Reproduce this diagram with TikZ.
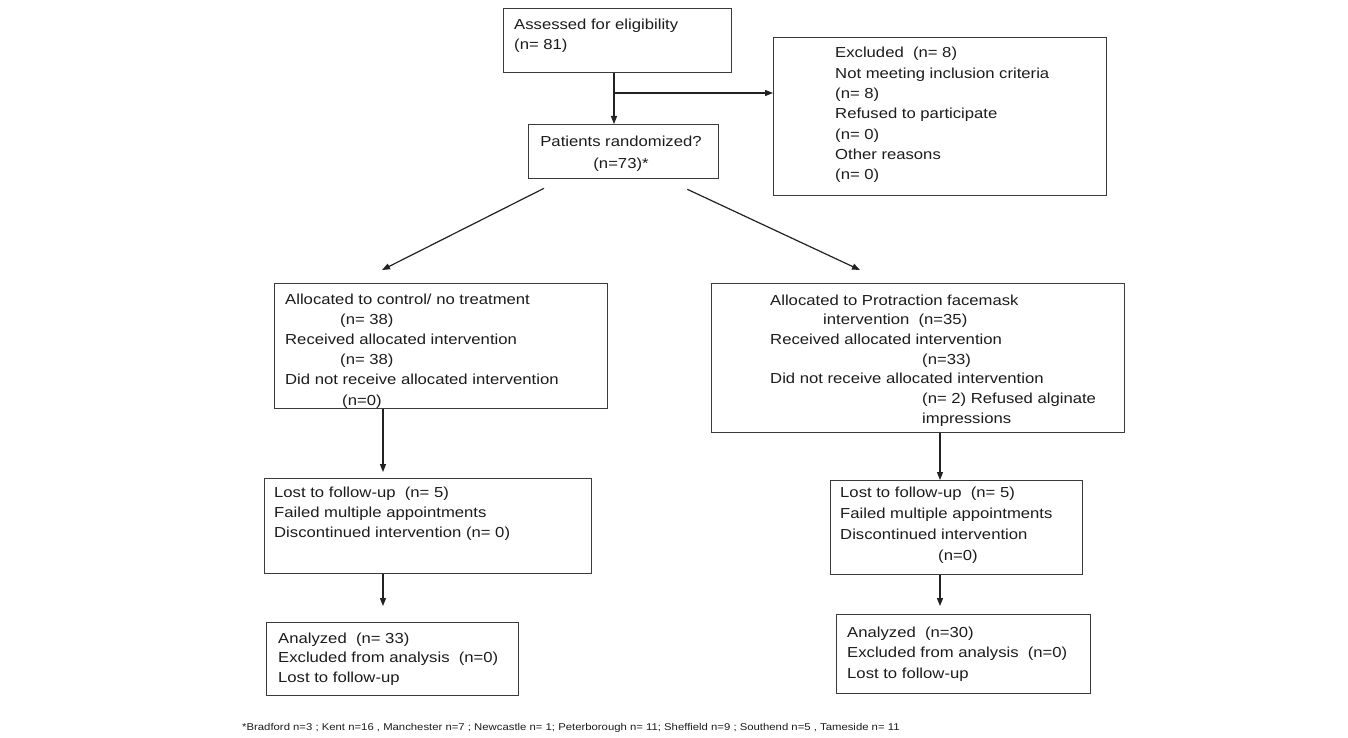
\documentclass[tikz,border=0pt]{standalone}
\usepackage{fontspec}
\setmainfont{Liberation Sans}[FakeStretch=1.15]
\usetikzlibrary{arrows.meta,calc}
\definecolor{boxc}{HTML}{3A3A3A}
\definecolor{txtc}{HTML}{1C1C1C}
\definecolor{linec}{HTML}{222222}
\newcommand\fsz[1]{\fontsize{14.5pt}{#1}\selectfont}
\begin{document}
\begin{tikzpicture}[x=1pt,y=-1pt,
  box/.style={draw=boxc, line width=1.3pt, inner sep=0pt, anchor=north west},
  txt/.style={anchor=base west, inner sep=0pt, text=txtc},
  arr/.style={draw=linec, line width=1.2pt, -{Triangle[length=8pt,width=6pt]}}]
\useasboundingbox[fill=white] (0,0) rectangle (1348,738);

% boxes
\node[box, minimum width=228pt, minimum height=64pt]  (B1) at (503,8) {};
\node[box, minimum width=190pt, minimum height=54pt]  (B2) at (528,124) {};
\node[box, minimum width=333pt, minimum height=158pt] (B3) at (773,37) {};
\node[box, minimum width=333pt, minimum height=125pt] (B4) at (274,283) {};
\node[box, minimum width=413pt, minimum height=149pt] (B5) at (711,283) {};
\node[box, minimum width=327pt, minimum height=95pt]  (B6) at (264,478) {};
\node[box, minimum width=252pt, minimum height=73pt]  (B7) at (266,622) {};
\node[box, minimum width=252pt, minimum height=94pt]  (B8) at (830,480) {};
\node[box, minimum width=254pt, minimum height=79pt]  (B9) at (836,614) {};

% texts
\node[txt] (T1) at (514,30) {\fsz{20pt}\begin{tabular}[t]{@{}l@{}}Assessed for eligibility\\(n= 81)\end{tabular}};
\node[txt, anchor=base] (T2) at (621,147) {\fsz{21pt}\begin{tabular}[t]{@{}c@{}}Patients randomized?\\(n=73)*\end{tabular}};
\node[txt] (T3) at (835,58) {\fsz{20.3pt}\begin{tabular}[t]{@{}l@{}}Excluded\ \ (n= 8)\\Not meeting inclusion criteria\\(n= 8)\\Refused to participate\\(n= 0)\\Other reasons\\(n= 0)\end{tabular}};
\node[txt] (T4) at (285,304) {\fsz{20.2pt}\begin{tabular}[t]{@{}l@{}}Allocated to control/ no treatment\\\hspace*{55pt}(n= 38)\\Received allocated intervention\\\hspace*{55pt}(n= 38)\\Did not receive allocated intervention\\\hspace*{57pt}(n=0)\end{tabular}};
\node[txt] (T5) at (770,305) {\fsz{19.7pt}\begin{tabular}[t]{@{}l@{}}Allocated to Protraction facemask\\\hspace*{53pt}intervention\ \ (n=35)\\Received allocated intervention\\\hspace*{152pt}(n=33)\\Did not receive allocated intervention\\\hspace*{152pt}(n= 2) Refused alginate\\\hspace*{152pt}impressions\end{tabular}};
\node[txt] (T6) at (274,497) {\fsz{20pt}\begin{tabular}[t]{@{}l@{}}Lost to follow-up\ \ (n= 5)\\Failed multiple appointments\\Discontinued intervention (n= 0)\end{tabular}};
\node[txt] (T7) at (278,643) {\fsz{19.5pt}\begin{tabular}[t]{@{}l@{}}Analyzed\ \ (n= 33)\\Excluded from analysis\ \ (n=0)\\Lost to follow-up\end{tabular}};
\node[txt] (T8) at (840,497) {\fsz{21.3pt}\begin{tabular}[t]{@{}l@{}}Lost to follow-up\ \ (n= 5)\\Failed multiple appointments\\Discontinued intervention\\\hspace*{98pt}(n=0)\end{tabular}};
\node[txt] (T9) at (847,637) {\fsz{20.5pt}\begin{tabular}[t]{@{}l@{}}Analyzed\ \ (n=30)\\Excluded from analysis\ \ (n=0)\\Lost to follow-up\end{tabular}};
\node[txt] (FN) at (242,730) {\fontsize{9.85pt}{11pt}\selectfont *Bradford n=3 ; Kent n=16 , Manchester n=7 ; Newcastle n= 1; Peterborough n= 11; Sheffield n=9 ; Southend n=5 , Tameside n= 11};

% connectors
\coordinate (v1) at (614,93);
\draw[arr] (B1.south -| v1) -- (B2.north -| v1);
\draw[arr] (v1) -- (v1 -| B3.west);
\draw[arr] ($(B2.south west)+(16,9)$) -- ($(B4.north west)+(108,-13)$);
\draw[arr] ($(B2.south east)+(-32,10)$) -- ($(B5.north west)+(149,-13)$);
\coordinate (vl) at (383,0);
\coordinate (vr) at (940,0);
\draw[arr] (B4.south -| vl) -- ($(B6.north -| vl)+(0,-6)$);
\draw[arr] (B6.south -| vl) -- ($(B7.north -| vl)+(0,-16)$);
\draw[arr] (B5.south -| vr) -- (B8.north -| vr);
\draw[arr] (B8.south -| vr) -- ($(B9.north -| vr)+(0,-8)$);
\end{tikzpicture}
\end{document}
